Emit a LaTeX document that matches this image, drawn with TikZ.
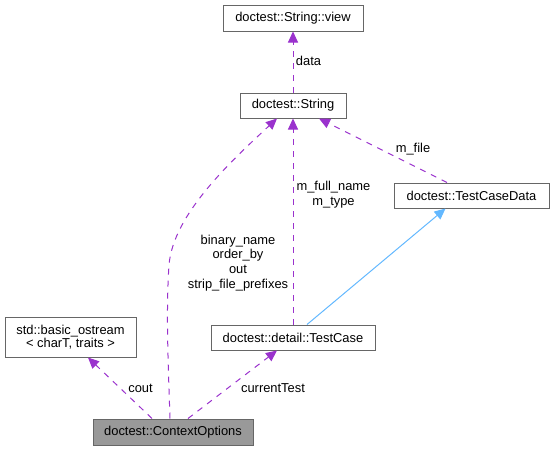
\documentclass[tikz,border=0pt]{standalone}
\usepackage{fontspec}
\setmainfont{Liberation Sans}
\usetikzlibrary{arrows.meta}
\definecolor{edgepurple}{HTML}{9A32CD}
\definecolor{inhblue}{HTML}{63B8FF}
\definecolor{boxgray}{HTML}{666666}
\definecolor{ctxfill}{HTML}{999999}
\tikzset{
  cls/.style={draw=boxgray, line width=1pt, fill=white, inner sep=0pt, minimum height=25pt, align=center},
  dep/.style={draw=edgepurple, line width=1pt, dash pattern=on 6pt off 6pt, -{Triangle[length=11pt,width=10pt,fill=edgepurple]}},
  inh/.style={draw=inhblue, line width=1pt, -{Triangle[length=11pt,width=10pt,fill=inhblue]}},
  lbl/.style={inner sep=0pt, align=center}
}
\begin{document}
\begin{tikzpicture}[x=1pt,y=-1pt,font=\fontsize{12.9}{14.7}\selectfont]
\useasboundingbox (0,0) rectangle (555,451);
\node[cls, minimum width=140pt, minimum height=26pt] (view) at (293,18) {doctest::String::view};
\node[cls, minimum width=106pt] (str) at (293,105.5) {doctest::String};
\node[cls, minimum width=155pt] (tcd) at (471.5,195.5) {doctest::TestCaseData};
\node[cls, minimum width=164pt] (tc) at (293,337.5) {doctest::detail::TestCase};
\node[cls, minimum width=131pt, minimum height=40pt] (os) at (70.5,337) {std::basic\_ostream\\[-1pt]\textless{} charT, traits \textgreater};
\node[cls, minimum width=160pt, minimum height=26pt, fill=ctxfill] (ctx) at (173,432) {doctest::ContextOptions};

\draw[dep] (str.north) -- (view.south);
\node[lbl] (ldata) at (308.5,61) {data};

\draw[dep] ([xshift=-24.5pt]tcd.north) -- ([xshift=26pt]str.south);
\node[lbl] (lmfile) at (413,149) {m\_file};

\draw[dep] (tc.north) -- (str.south);
\node[lbl] (lmfull) at (333.5,195) {m\_full\_name\\m\_type};

\draw[inh] ([xshift=14pt]tc.north) -- ([xshift=-26pt]tcd.south);

\draw[dep] ([xshift=-3pt]ctx.north) .. controls (168,360) and (166,310) .. (169,265) .. controls (173,215) and (230,162) .. ([xshift=-16pt]str.south);
\node[lbl] (lbin) at (238,263) {binary\_name\\order\_by\\out\\strip\_file\_prefixes};

\draw[dep] ([xshift=-21pt]ctx.north) -- ([xshift=17.5pt]os.south);
\node[lbl] (lcout) at (140.5,388) {cout};

\draw[dep] ([xshift=15pt]ctx.north) -- ([xshift=-16pt]tc.south);
\node[lbl] (lcur) at (273,388) {currentTest};
\end{tikzpicture}
\end{document}
